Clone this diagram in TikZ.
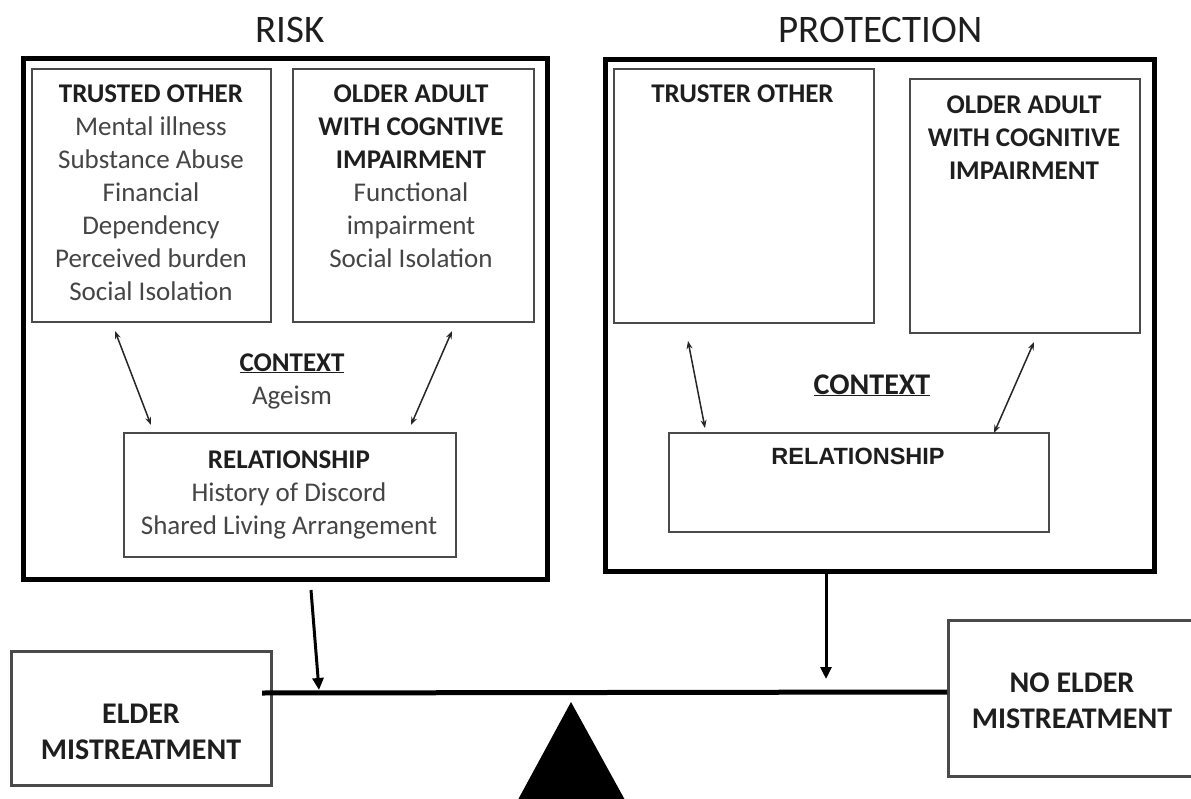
\documentclass[tikz,border=0pt]{standalone}
\usepackage{fontspec}
\setmainfont{Carlito}
\newfontfamily\arialfont{Liberation Sans}
\usetikzlibrary{arrows.meta}
\definecolor{txtgray}{HTML}{454545}
\definecolor{hdr}{HTML}{1E1E1E}
\definecolor{boxgray}{HTML}{4A4A4A}
\begin{document}
\begin{tikzpicture}[x=1pt,y=-1pt,
  outerbox/.style={draw=black, line width=5pt, inner sep=0, anchor=north west},
  innerbox/.style={draw=boxgray, line width=2pt, inner sep=0, anchor=north west},
  endbox/.style={draw=boxgray, line width=3pt, inner sep=0, anchor=north west},
  titletext/.style={font=\fontsize{39}{47}\selectfont, text=hdr, anchor=base, inner sep=0},
  bodytext/.style={font=\fontsize{27}{33}\selectfont, text=txtgray, align=center, anchor=base, inner sep=0},
  hdrtext/.style={font=\fontsize{27}{33}\selectfont\bfseries, text=hdr, align=center, anchor=base, inner sep=0},
  endtext/.style={font=\fontsize{30}{36}\selectfont\bfseries, text=hdr, align=center, anchor=base, inner sep=0},
  dblarrow/.style={line width=1.5pt, draw=black!85, {Stealth[length=8pt,width=6pt]}-{Stealth[length=8pt,width=6pt]}},
  downarrow/.style={line width=3pt, -{Triangle[length=12pt,width=11pt]}},
  beam/.style={line width=5pt}
]
\useasboundingbox (0,0) rectangle (1191,799);
\clip (0,0) rectangle (1191,799);
\fill[white] (0,0) rectangle (1191,799);

% titles
\node[titletext] (riskT) at (290,43) {RISK};
\node[titletext] (protT) at (880.5,43) {PROTECTION};

% outer boxes
\node[outerbox, minimum width=524, minimum height=521] (riskbox) at (21,56) {};
\node[outerbox, minimum width=549, minimum height=512] (protbox) at (603,57) {};

% risk side inner boxes
\node[innerbox, minimum width=239, minimum height=253] (trustL) at (31,68) {};
\node[innerbox, minimum width=241, minimum height=253] (olderL) at (292,68) {};
\node[innerbox, minimum width=332, minimum height=124] (relL) at (123,432) {};

% multi-line texts: anchored at the baseline of their last line
\node[bodytext] (trustLtext) at (151,301) {{\bfseries\color{hdr}TRUSTED OTHER}\\Mental illness\\Substance Abuse\\Financial\\Dependency\\Perceived burden\\Social Isolation};
\node[bodytext] (olderLtext) at (411,268) {{\bfseries\color{hdr}OLDER ADULT}\\{\bfseries\color{hdr}WITH COGNTIVE}\\{\bfseries\color{hdr}IMPAIRMENT}\\Functional\\impairment\\Social Isolation};
\node[bodytext] (ctxL) at (292,404) {{\bfseries\color{hdr}\underline{CONTEXT}}\\Ageism};
\node[bodytext] (relLtext) at (289,534) {{\bfseries\color{hdr}RELATIONSHIP}\\History of Discord\\Shared Living Arrangement};

\coordinate (aLs) at (115,331);
\coordinate (aLe) at (151,425);
\coordinate (aRs) at (452,331);
\coordinate (aRe) at (411,425);
\draw[dblarrow] (aLs) -- (aLe);
\draw[dblarrow] (aRs) -- (aRe);

% protection side inner boxes
\node[innerbox, minimum width=260, minimum height=254] (trustR) at (613,68) {};
\node[innerbox, minimum width=230, minimum height=254] (olderR) at (909,78) {};
\node[innerbox, minimum width=380, minimum height=99] (relR) at (668,432) {};

\node[hdrtext] (trustRtext) at (742.5,103) {TRUSTER OTHER};
\node[hdrtext] (olderRtext) at (1024,180) {OLDER ADULT\\WITH COGNITIVE\\IMPAIRMENT};
\node[hdrtext, font=\fontsize{30}{36}\selectfont\bfseries] (ctxR) at (872,394) {\underline{CONTEXT}};
\node[hdrtext, font=\fontsize{23.5}{28}\arialfont\bfseries] (relRtext) at (858,464) {RELATIONSHIP};

\coordinate (bLs) at (688,341);
\coordinate (bLe) at (705,428);
\coordinate (bRs) at (1034,342);
\coordinate (bRe) at (994,433);
\draw[dblarrow] (bLs) -- (bLe);
\draw[dblarrow] (bRs) -- (bRe);

% balance
\node[endbox, minimum width=260, minimum height=134] (elder) at (10,650) {};
\node[endbox, minimum width=260, minimum height=156] (noelder) at (947,619) {};
\node[endtext] (eldertext) at (141,759) {ELDER\\MISTREATMENT};
\node[endtext] (noeldertext) at (1072,728) {NO ELDER\\MISTREATMENT};

\coordinate (beamL) at (262,693);
\coordinate (beamR) at (947,692);
\draw[beam] (beamL) -- (beamR);

\coordinate (riskOut) at (311,590);
\coordinate (riskHit) at (319,690);
\coordinate (protOut) at (826,570);
\coordinate (protHit) at (826,679);
\draw[downarrow] (riskOut) -- (riskHit);
\draw[downarrow] (protOut) -- (protHit);

\coordinate (fulcrum) at (571,702);
\fill[black] (fulcrum) -- (636,820) -- (507,820) -- cycle;
\end{tikzpicture}
\end{document}
